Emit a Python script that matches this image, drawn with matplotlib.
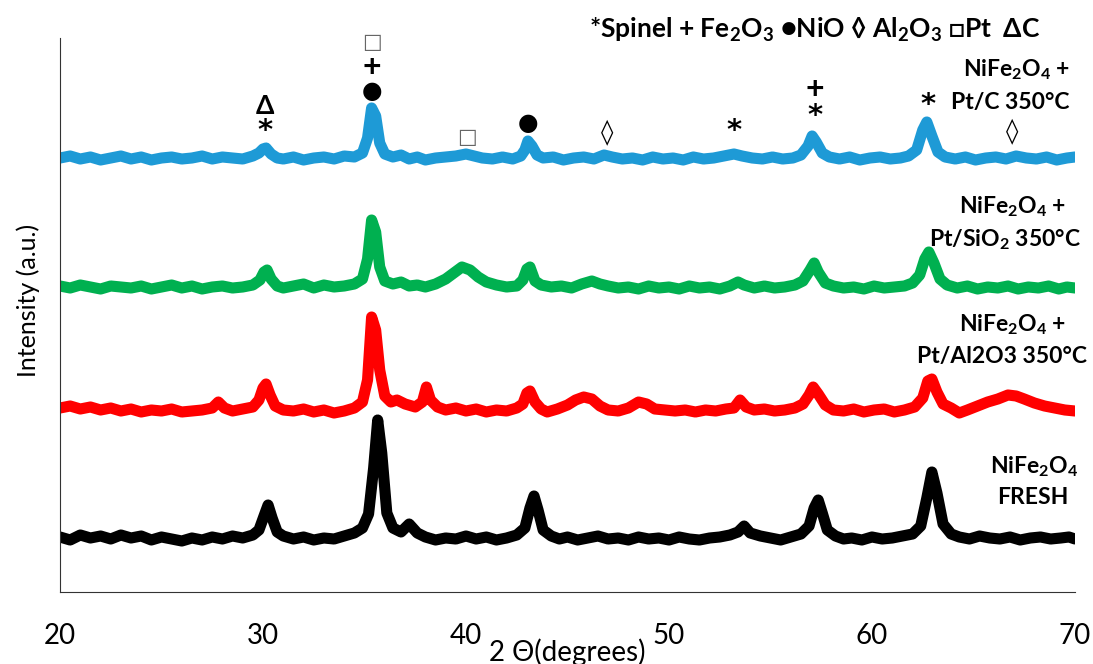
import numpy as np
import matplotlib
matplotlib.use("Agg")
import matplotlib.pyplot as plt

plt.rcParams['font.family'] = ['Lato', 'DejaVu Sans']
plt.rcParams['mathtext.fontset'] = 'custom'
plt.rcParams['mathtext.rm'] = 'Lato:bold'
plt.rcParams['mathtext.it'] = 'Lato:bold:italic'
plt.rcParams['mathtext.bf'] = 'Lato:bold'

# (2theta, intensity above own baseline)
fresh = [(20,1),(20.5,-2),(21,3),(21.5,0),(22,2),(22.5,-1),(23,3),(23.5,0),(24,2),(24.5,-2),(25,1),(25.5,-1),
         (26,-3),(26.5,0),(27,-2),(27.5,1),(28,-1),(28.5,2),(29,0),(29.5,3),(29.8,8),(30.05,22),(30.25,33),
         (30.45,20),(30.7,6),(31,2),(31.5,-1),(32,1),(32.5,-2),(33,0),(33.5,-1),(34,2),(34.5,5),(34.9,10),
         (35.2,24),(35.45,70),(35.65,118),(35.85,85),(36.1,25),(36.4,10),(36.8,6),(37.2,14),(37.6,5),(38,1),
         (38.5,-2),(39,0),(39.5,-1),(40,2),(40.5,-1),(41,1),(41.5,-2),(42,0),(42.5,3),(42.9,10),(43.15,30),
         (43.35,42),(43.55,28),(43.8,8),(44.2,2),(44.6,-1),(45,1),(45.5,-2),(46,0),(46.5,2),(47,-1),(47.5,0),
         (48,-2),(48.5,1),(49,-1),(49.5,0),(50,-2),(50.5,1),(51,-1),(51.5,-2),(52,0),(52.5,1),(53,3),(53.4,6),
         (53.7,12),(54,5),(54.5,2),(55,0),(55.5,-2),(56,1),(56.5,4),(56.9,12),(57.15,30),(57.35,38),(57.55,25),
         (57.8,8),(58.2,2),(58.6,-1),(59,0),(59.5,-2),(60,1),(60.5,-1),(61,0),(61.5,2),(62,4),(62.4,12),
         (62.7,40),(62.95,66),(63.2,45),(63.5,14),(63.9,4),(64.3,1),(64.8,-1),(65.3,2),(65.8,0),(66.3,-1),
         (66.8,1),(67.3,-2),(67.8,0),(68.3,1),(68.8,-1),(69.3,0),(69.7,1),(70,-1)]

pt_al2o3 = [(20,2),(20.5,4),(21,1),(21.5,3),(22,0),(22.5,2),(23,-1),(23.5,1),(24,-2),(24.5,0),(25,-1),(25.5,1),
            (26,-2),(26.5,-1),(27,0),(27.5,2),(27.8,8),(28.1,2),(28.5,-1),(29,1),(29.5,3),(29.8,10),(30.0,22),
            (30.15,26),(30.35,15),(30.6,4),(31,0),(31.5,-1),(32,1),(32.5,-2),(33,0),(33.5,-3),(34,-1),(34.5,2),
            (34.9,8),(35.15,30),(35.35,93),(35.55,80),(35.75,40),(36.0,14),(36.3,8),(36.6,10),(37,6),(37.5,3),
            (37.85,8),(38.05,23),(38.25,10),(38.6,3),(39,0),(39.5,2),(40,-1),(40.5,1),(41,-2),(41.5,0),(42,-1),
            (42.5,2),(42.8,6),(43.0,17),(43.15,19),(43.4,8),(43.7,1),(44,-2),(44.5,1),(45,5),(45.4,10),(45.8,13),
            (46.2,11),(46.6,4),(47,0),(47.5,-1),(48,2),(48.5,8),(48.9,6),(49.3,1),(49.8,0),(50.3,-1),(50.8,0),
            (51.3,-2),(51.8,0),(52.3,-1),(52.8,1),(53.2,2),(53.5,10),(53.8,3),(54.2,0),(54.7,1),(55.2,-1),
            (55.7,0),(56.2,2),(56.6,6),(56.9,15),(57.1,23),(57.35,16),(57.7,5),(58.1,0),(58.6,-1),(59.1,1),
            (59.6,-2),(60.1,0),(60.6,1),(61.1,-2),(61.6,0),(62.1,3),(62.5,12),(62.75,29),(62.95,31),(63.2,18),
            (63.5,6),(63.9,2),(64.3,-3),(64.7,0),(65.2,4),(65.7,8),(66.2,11),(66.7,15),(67.1,14),(67.5,11),
            (68,7),(68.5,4),(69,2),(69.5,0),(70,-1)]

pt_sio2 = [(20,1),(20.5,-1),(21,2),(21.5,0),(22,-2),(22.5,1),(23,0),(23.5,-1),(24,1),(24.5,-2),(25,0),(25.5,2),
           (26,-1),(26.5,1),(27,-2),(27.5,0),(28,1),(28.5,-1),(29,0),(29.5,2),(29.85,7),(30.05,15),(30.2,17),
           (30.4,8),(30.7,1),(31,-1),(31.5,1),(32,3),(32.5,-1),(33,2),(33.5,0),(34,1),(34.5,3),(34.9,8),
           (35.15,28),(35.35,67),(35.55,55),(35.75,20),(36.0,6),(36.4,3),(36.8,5),(37.2,1),(37.6,2),(38,0),
           (38.5,3),(39,8),(39.4,14),(39.8,20),(40.2,17),(40.6,10),(41,5),(41.5,2),(42,0),(42.5,1),(42.8,7),
           (43.0,18),(43.15,20),(43.4,6),(43.7,2),(44.2,0),(44.7,1),(45.2,-1),(45.7,3),(46.2,6),(46.6,3),(47,1),
           (47.5,-1),(48,0),(48.5,-2),(49,1),(49.5,-1),(50,0),(50.5,-2),(51,1),(51.5,-1),(52,0),(52.5,-2),(53,1),
           (53.4,5),(53.7,2),(54.2,-1),(54.7,1),(55.2,-1),(55.7,0),(56.2,2),(56.6,6),(56.95,17),(57.15,24),
           (57.35,15),(57.7,4),(58.1,1),(58.6,-1),(59.1,0),(59.6,-2),(60.1,1),(60.6,-1),(61.1,0),(61.6,1),
           (62.0,4),(62.35,12),(62.6,28),(62.8,35),(63.05,24),(63.35,8),(63.7,2),(64.2,-1),(64.7,1),(65.2,-2),
           (65.7,0),(66.2,-1),(66.7,1),(67.2,-2),(67.7,0),(68.2,-1),(68.7,1),(69.2,-2),(69.6,0),(70,-1)]

pt_c = [(20,0),(20.5,2),(21,-1),(21.5,1),(22,-2),(22.5,0),(23,2),(23.5,-1),(24,1),(24.5,-2),(25,0),(25.5,1),
        (26,-1),(26.5,0),(27,2),(27.5,-1),(28,1),(28.5,0),(29,-1),(29.5,2),(29.8,5),(30.0,9),(30.15,10),
        (30.4,4),(30.7,0),(31,-1),(31.5,1),(32,-2),(32.5,0),(33,1),(33.5,-1),(34,2),(34.5,1),(34.9,5),
        (35.15,20),(35.35,50),(35.55,42),(35.75,15),(36.0,4),(36.4,1),(36.8,3),(37.2,-1),(37.6,1),(38,-2),
        (38.5,0),(39,1),(39.5,2),(40,4),(40.4,2),(40.8,0),(41.3,-1),(41.8,1),(42.3,-1),(42.7,2),(42.9,8),
        (43.05,17),(43.25,12),(43.5,3),(43.8,0),(44.3,1),(44.8,-2),(45.3,0),(45.8,1),(46.3,-1),(46.8,3),
        (47.2,1),(47.7,-1),(48.2,0),(48.7,-2),(49.2,1),(49.7,-1),(50.2,0),(50.7,-2),(51.2,1),(51.7,-1),
        (52.2,0),(52.7,2),(53.2,4),(53.6,2),(54.1,0),(54.6,-1),(55.1,1),(55.6,-1),(56.1,0),(56.5,3),
        (56.85,12),(57.05,22),(57.25,16),(57.55,5),(57.9,1),(58.4,-1),(58.9,1),(59.4,-2),(59.9,0),(60.4,1),
        (60.9,-1),(61.4,0),(61.8,2),(62.2,8),(62.5,28),(62.7,36),(62.95,22),(63.25,6),(63.6,1),(64.1,-1),
        (64.6,1),(65.1,-2),(65.6,0),(66.1,1),(66.6,-1),(67.1,2),(67.6,0),(68.1,-1),(68.6,1),(69.1,-2),
        (69.6,0),(70,1)]

series = [fresh, pt_al2o3, pt_sio2, pt_c]
offsets = [54, 182, 305, 434]
colors = ['black', '#FF0000', '#00B050', '#1E9AD6']

# peak markers: (symbol, 2theta, height)
marks = [('Δ', 30.1, 486), ('*', 30.1, 461),
         ('□', 35.37, 550), ('+', 35.37, 525), ('●', 35.37, 501),
         ('□', 40.05, 455), ('●', 43.05, 469), ('◊', 46.95, 459),
         ('*', 53.2, 461), ('+', 57.2, 502), ('*', 57.2, 476),
         ('*', 62.75, 487), ('◊', 66.9, 460)]

mark_style = {'*': ('DejaVu Sans', 21, 'black'), '+': ('Lato', 23, 'black'),
              '●': ('DejaVu Sans', 17, 'black'), '□': ('DejaVu Sans', 15, '0.4'),
              '◊': ('DejaVu Sans', 18, 'black'), 'Δ': ('Lato', 19, 'black')}

labels = [('NiFe$_2$O$_4$ +', 67.14, 522), ('Pt/C 350°C', 66.8, 490),
          ('NiFe$_2$O$_4$ +', 66.9, 385), ('Pt/SiO$_2$ 350°C', 66.55, 352),
          ('NiFe$_2$O$_4$ +', 66.9, 267), ('Pt/Al2O3 350°C', 66.4, 235),
          ('NiFe$_2$O$_4$', 68.0, 125), ('FRESH', 67.93, 94)]

fig = plt.figure(figsize=(10.93, 6.64), dpi=100)
ax = fig.add_axes([60/1093, 72/664, 1015/1093, 554/664])

for data, off, c in zip(series, offsets, colors):
    d = np.array(data)
    ax.plot(d[:, 0], d[:, 1] + off, color=c, lw=8, solid_joinstyle='round', solid_capstyle='round')

for s, x, y in marks:
    fam, fs, col = mark_style[s]
    ax.text(x, y, s, ha='center', va='center', fontsize=fs, fontweight='bold', color=col, family=fam)

for s, x, y in labels:
    ax.text(x, y, s, ha='center', va='center', fontsize=16.5, fontweight='bold')

ax.text(57.19, 562, '*Spinel + Fe$_2$O$_3$ ●NiO ◊ Al$_2$O$_3$ □Pt  ΔC', ha='center', va='center',
        fontsize=19, fontweight='bold')

ax.set_xlim(20, 70)
ax.set_ylim(0, 554)
ax.set_xticks([20, 30, 40, 50, 60, 70])
ax.set_yticks([])
ax.tick_params(axis='x', length=0, pad=22, labelsize=20)
ax.spines['top'].set_visible(False)
ax.spines['right'].set_visible(False)
ax.spines['left'].set_color('0.2')
ax.spines['bottom'].set_color('0.2')

fig.text(567/1093, 1 - 652/664, '2 Θ(degrees)', ha='center', va='center', fontsize=20)
fig.text(28/1093, 1 - 300/664, 'Intensity (a.u.)', ha='center', va='center', fontsize=18, rotation=90)

fig.savefig('out.png', dpi=100)
